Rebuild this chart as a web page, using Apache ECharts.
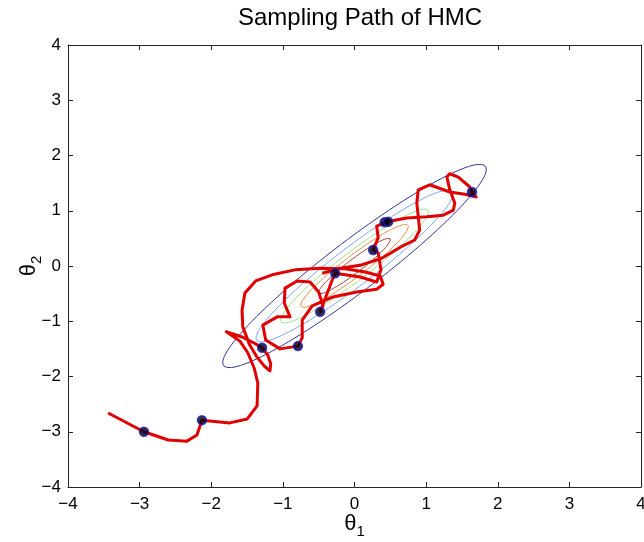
<!DOCTYPE html>
<html>
<head>
<meta charset="utf-8">
<script src="https://cdn.jsdelivr.net/npm/echarts@6/dist/echarts.min.js"></script>
<style>
html, body { margin: 0; padding: 0; background: #fff; }
#chart { width: 644px; height: 542px; }
</style>
</head>
<body>
<div id="chart"></div>
<script>
// axis ticks
var tickValues = [-4, -3, -2, -1, 0, 1, 2, 3, 4];
var tickLabels = ['\u22124', '\u22123', '\u22122', '\u22121', '0', '1', '2', '3', '4'];

// leapfrog path [theta1, theta2]
var pathPoints = [
    [-3.44, -2.66], [-2.94, -3.00], [-2.60, -3.15], [-2.34, -3.17], [-2.20, -3.06], [-2.16, -2.91],
    [-2.13, -2.79], [-1.74, -2.84], [-1.50, -2.77], [-1.36, -2.53], [-1.35, -2.12], [-1.40, -1.85],
    [-1.49, -1.57], [-1.60, -1.36], [-1.79, -1.19], [-1.56, -1.29], [-1.38, -1.41], [-1.29, -1.48],
    [-1.21, -1.61], [-1.17, -1.77], [-1.18, -1.90], [-1.26, -1.81], [-1.36, -1.65], [-1.47, -1.41],
    [-1.56, -1.10], [-1.57, -0.80], [-1.53, -0.49], [-1.38, -0.27], [-1.15, -0.16], [-0.83, -0.07],
    [-0.48, -0.04], [-0.13, -0.05], [0.15, -0.11], [0.36, -0.18], [0.40, -0.33], [0.31, -0.42],
    [0.03, -0.47], [-0.30, -0.56], [-0.59, -0.72], [-0.73, -0.98], [-0.73, -1.30], [-0.79, -1.45],
    [-1.04, -1.50], [-1.24, -1.34], [-1.28, -1.07], [-1.08, -0.92], [-0.90, -0.92], [-0.98, -0.67],
    [-0.97, -0.40], [-0.80, -0.27], [-0.62, -0.29], [-0.50, -0.47], [-0.44, -0.72], [-0.48, -0.83],
    [-0.38, -0.49], [-0.31, -0.25], [-0.27, -0.13], [0.08, -0.20], [0.31, -0.29], [0.37, -0.07],
    [0.33, 0.24], [0.26, 0.29], [0.33, 0.51], [0.31, 0.72], [0.45, 0.80], [0.73, 0.87],
    [1.01, 0.89], [1.24, 0.92], [1.38, 1.01], [1.40, 1.14], [1.33, 1.38], [1.29, 1.61],
    [1.33, 1.67], [1.45, 1.61], [1.61, 1.43], [1.64, 1.34], [1.70, 1.25], [1.54, 1.30],
    [1.33, 1.34], [1.05, 1.47], [0.89, 1.38], [0.87, 1.14], [0.91, 0.65], [0.84, 0.47],
    [0.64, 0.34], [0.38, 0.14], [0.10, 0.02], [-0.20, -0.04], [-0.45, -0.13]
];

// accepted samples
var samplePoints = [
    [-2.94, -3.00], [-2.13, -2.79], [-1.29, -1.48], [-0.79, -1.45], [-0.48, -0.83],
    [-0.27, -0.13], [0.26, 0.29], [0.42, 0.79], [0.47, 0.80], [1.64, 1.34]
];

// density contours: semi-axes along / across the 45 degree direction
var contourMajor = [2.57, 1.92, 1.44, 1.05, 0.70];
var contourMinor = [0.41, 0.31, 0.23, 0.17, 0.11];
var contourColors = ['#34349e', '#7ea8f2', '#9fe487', '#ef9247', '#9a4c44'];

function ellipse(a, b) {
    var pts = [];
    var c = Math.SQRT1_2;
    for (var i = 0; i <= 120; i++) {
        var t = i / 120 * Math.PI * 2;
        var u = a * Math.cos(t), v = b * Math.sin(t);
        pts.push([c * (u - v), c * (u + v)]);
    }
    return pts;
}

var font = 'Liberation Sans, Arial, Helvetica, sans-serif';
var axisColor = '#262626';

function labelOf(v) {
    var i = tickValues.indexOf(v);
    return i >= 0 ? tickLabels[i] : '';
}

var nameRich = {
    t: { fontFamily: font, fontSize: 22, color: '#000', lineHeight: 30, verticalAlign: 'middle' },
    s: { fontFamily: font, fontSize: 15, color: '#000', lineHeight: 6, verticalAlign: 'bottom' }
};

var contourSeries = contourMajor.map(function (a, i) {
    return {
        type: 'line',
        data: ellipse(a, contourMinor[i]),
        showSymbol: false,
        silent: true,
        lineStyle: { color: contourColors[i], width: 1 },
        z: 2
    };
});

var myChart = echarts.init(document.getElementById('chart'));
var option = {
    animation: false,
    backgroundColor: '#fff',
    title: {
        text: 'Sampling Path of HMC',
        left: 355,
        textAlign: 'center',
        top: 1,
        textStyle: { fontFamily: font, fontSize: 24, fontWeight: 'normal', color: '#000' }
    },
    grid: { left: 68, right: 3, top: 45, bottom: 55, show: false, containLabel: false, outerBoundsMode: 'none' },
    xAxis: [{
        type: 'value', min: -4, max: 4, interval: 1, position: 'bottom',
        name: '{t|\u03b8}{s|1}', nameLocation: 'middle', nameGap: 22, nameMoveOverlap: false,
        nameTextStyle: { rich: nameRich },
        axisLine: { onZero: false, lineStyle: { color: axisColor, width: 1 } },
        axisTick: { inside: true, length: 5, lineStyle: { color: axisColor } },
        axisLabel: { margin: 9, fontFamily: font, fontSize: 17, color: '#000', formatter: labelOf },
        splitLine: { show: false }
    }, {
        type: 'value', min: -4, max: 4, interval: 1, position: 'top',
        axisLine: { onZero: false, lineStyle: { color: axisColor, width: 1 } },
        axisTick: { inside: true, length: 5, lineStyle: { color: axisColor } },
        axisLabel: { show: false },
        splitLine: { show: false }
    }],
    yAxis: [{
        type: 'value', min: -4, max: 4, interval: 1, position: 'left',
        name: '{t|\u03b8}{s|2}', nameLocation: 'middle', nameGap: 24, nameRotate: 90, nameMoveOverlap: false,
        nameTextStyle: { rich: nameRich },
        axisLine: { onZero: false, lineStyle: { color: axisColor, width: 1 } },
        axisTick: { inside: true, length: 5, lineStyle: { color: axisColor } },
        axisLabel: { margin: 7, fontFamily: font, fontSize: 17, color: '#000', formatter: labelOf },
        splitLine: { show: false }
    }, {
        type: 'value', min: -4, max: 4, interval: 1, position: 'right',
        axisLine: { onZero: false, lineStyle: { color: axisColor, width: 1 } },
        axisTick: { inside: true, length: 5, lineStyle: { color: axisColor } },
        axisLabel: { show: false },
        splitLine: { show: false }
    }],
    series: contourSeries.concat([{
        type: 'line',
        data: pathPoints,
        showSymbol: false,
        silent: true,
        lineStyle: { color: '#e00000', width: 3, join: 'round' },
        z: 5
    }, {
        type: 'scatter',
        data: samplePoints,
        symbolSize: 9,
        itemStyle: { color: '#000010', borderColor: '#1c1cc8', borderWidth: 1.5 },
        z: 10
    }])
};
myChart.setOption(option);
</script>
</body>
</html>
